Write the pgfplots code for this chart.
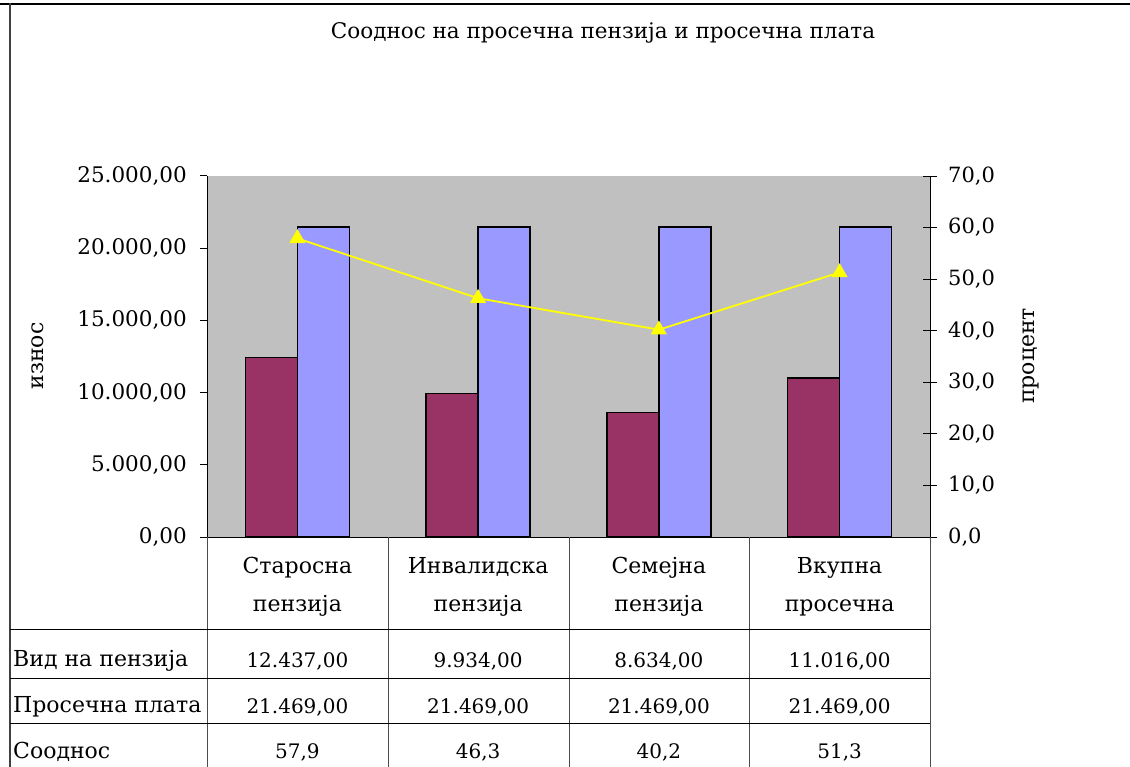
\documentclass[border=0pt]{standalone}
\usepackage{pgfplots}
\pgfplotsset{compat=1.18}
\usepackage{fontspec}
\setmainfont{DejaVu Serif}
\definecolor{barA}{HTML}{993366}
\definecolor{barB}{HTML}{9999FF}
\definecolor{plotbg}{HTML}{C0C0C0}
\definecolor{lineY}{HTML}{FFFF00}
\newcommand{\fs}{\fontsize{20}{24}\selectfont}
\newcommand{\ft}{\fontsize{22}{26}\selectfont}
\begin{document}
\begin{tikzpicture}
\useasboundingbox (0pt,0pt) rectangle (1130pt,-767pt);
% left axis: bars
\begin{axis}[
  at={(207pt,-537pt)}, anchor=south west,
  scale only axis, width=723pt, height=361pt,
  xmin=-0.5, xmax=3.5, ymin=0, ymax=25000,
  scaled y ticks=false,
  axis background/.style={fill=plotbg},
  axis x line*=bottom, axis y line*=left,
  axis line style={black, line width=1pt, -},
  xtick={0,1,2,3},
  xticklabels={{Старосна\\пензија},{Инвалидска\\пензија},{Семејна\\пензија},{Вкупна\\просечна}},
  xticklabel style={font=\fontsize{22}{38}\selectfont, align=center, anchor=center, yshift=-43pt, inner sep=0pt},
  x tick style={draw=none},
  ytick={0,5000,10000,15000,20000,25000},
  yticklabels={{0,00},{5.000,00},{10.000,00},{15.000,00},{20.000,00},{25.000,00}},
  yticklabel style={font=\fontsize{21.5}{25}\selectfont, anchor=east, inner sep=0pt, xshift=-13pt},
  y tick style={black, line width=1pt},
  tick align=outside, major tick length=7pt,
  ybar=0pt, bar width=52pt,
  clip=false,
]
\addplot[fill=barA, draw=black, line width=1.3pt] coordinates {(0,12437) (1,9934) (2,8634) (3,11016)};
\addplot[fill=barB, draw=black, line width=1.3pt] coordinates {(0,21469) (1,21469) (2,21469) (3,21469)};
\end{axis}
% right axis: line
\begin{axis}[
  at={(207pt,-537pt)}, anchor=south west,
  scale only axis, width=723pt, height=361pt,
  xmin=-0.5, xmax=3.5, ymin=0, ymax=70,
  axis x line=none, axis y line*=right,
  axis line style={black, line width=1pt, -},
  ytick={0,10,20,30,40,50,60,70},
  yticklabels={{0,0},{10,0},{20,0},{30,0},{40,0},{50,0},{60,0},{70,0}},
  yticklabel style={font=\fontsize{21}{25}\selectfont, anchor=west, inner sep=0pt, xshift=11pt},
  y tick style={black, line width=1pt},
  tick align=center, major tick length=14pt,
  clip=false,
]
\addplot[lineY, line width=1.8pt, mark=triangle*, mark size=7.5pt, mark options={fill=lineY, draw=lineY}] coordinates {(0,57.9) (1,46.3) (2,40.2) (3,51.3)};
\end{axis}
% frame, titles and data table
\begin{scope}[x=1pt, y=-1pt]
  \draw[line width=2.5pt] (0,4) -- (1130,4);
  \draw[line width=2pt, black!75] (10,3) -- (10,780);
  \node[font=\fontsize{21.5}{26}\selectfont] at (603,33) {Сооднос на просечна пензија и просечна плата};
  \node[font=\ft, rotate=90] at (38,356) {износ};
  \node[font=\ft, rotate=90] at (1031,356) {процент};
  \foreach \xx in {207,388,569,749,930} {\draw[line width=1pt, black!70] (\xx,537) -- (\xx,780);}
  \foreach \yy in {629,678,723} {\draw[line width=1pt, black] (10,\yy) -- (930,\yy);}
  \node[font=\ft, anchor=west, inner sep=0pt] at (13,661) {Вид на пензија};
  \node[font=\ft, anchor=west, inner sep=0pt] at (13,707) {Просечна плата};
  \node[font=\ft, anchor=west, inner sep=0pt] at (13,752) {Сооднос};
  \foreach \cx/\a in {297.4/12.437{,}00, 478.1/9.934{,}00, 658.9/8.634{,}00, 839.6/11.016{,}00} {
    \node[font=\fs] at (\cx,661) {\a};
    \node[font=\fs] at (\cx,707) {21.469,00};
  }
  \node[font=\fs] at (297.4,752) {57,9};
  \node[font=\fs] at (478.1,752) {46,3};
  \node[font=\fs] at (658.9,752) {40,2};
  \node[font=\fs] at (839.6,752) {51,3};
\end{scope}
\end{tikzpicture}
\end{document}
